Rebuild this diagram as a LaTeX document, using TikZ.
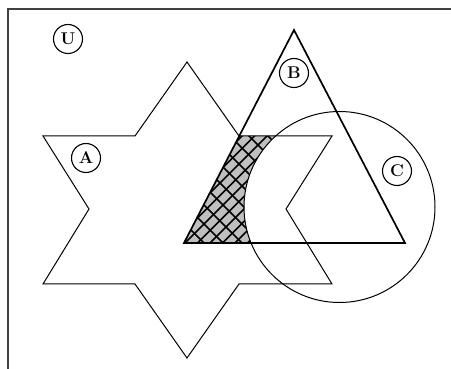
\documentclass[tikz,border=0pt]{standalone}
\begin{document}
\begin{tikzpicture}[x=1pt,y=-1pt,
  setlabel/.style={draw,circle,line width=1.1pt,minimum size=29pt,inner sep=0pt,font=\fontsize{17}{17}\selectfont\bfseries},
  thinline/.style={line width=1pt,line join=miter},
  thickline/.style={line width=1.7pt,line join=miter},
  hatch/.style={line width=1.6pt},
  framestyle/.style={line width=1.5pt,draw=black!75}]
\useasboundingbox (0,0) rectangle (451,369);
\def\regionpath{(184,243) -- (239.3,136) -- (275.6,136) -- plot[domain=228.8:157.85,samples=40] ({339.5+95.5*cos(\x)},{207+95.5*sin(\x)}) -- cycle}
% shaded region
\fill[black!25] \regionpath;
\begin{scope}
  \clip \regionpath;
  \foreach \k in {0,...,9} \draw[hatch] ({378+12.5*\k-300},300) -- ++(300,-300);
  \foreach \k in {0,...,10} \draw[hatch] ({-58+19*\k},0) -- ++(300,300);
\end{scope}
% frame
\draw[framestyle] (8,369) -- (8,9) -- (451,9);
% star A
\draw[thinline] (187,62) -- (239,136) -- (332,136) -- (286,209) -- (332,284) -- (239,284)
  -- (187,358) -- (135,284) -- (43,284) -- (89,209) -- (43,136) -- (135,136) -- cycle;
% triangle B
\draw[thickline] (294,30) -- (405,243) -- (184,243) -- cycle;
% circle C
\draw[thinline] (339.5,207) circle[radius=95.5];
% labels
\node[setlabel] (U) at (68,39) {U};
\node[setlabel] (A) at (86,158) {A};
\node[setlabel] (B) at (294,73) {B};
\node[setlabel] (C) at (397,171) {C};
\end{tikzpicture}
\end{document}
